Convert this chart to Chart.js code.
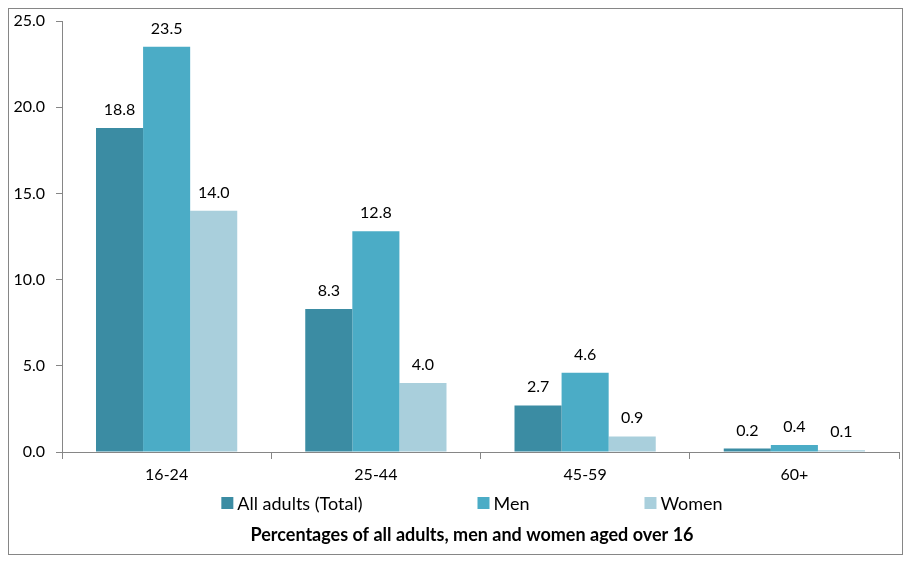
<!DOCTYPE html>
<html><head><meta charset="utf-8">
<script src="https://cdn.jsdelivr.net/npm/chart.js@4"></script>
<style>html,body{margin:0;padding:0;background:#fff}#wrap{width:914px;height:566px}</style>
</head><body><div id="wrap"><canvas id="c"></canvas></div>
<script>
const categories = ["16-24", "25-44", "45-59", "60+"];
const allAdults = [18.8, 8.3, 2.7, 0.2];
const men = [23.5, 12.8, 4.6, 0.4];
const women = [14.0, 4.0, 0.9, 0.1];
const seriesNames = ["All adults (Total)", "Men", "Women"];
const seriesColors = ["#3B8CA3", "#4BACC6", "#A9CFDC"];
const yTicks = [0, 5, 10, 15, 20, 25];
const titleText = "Percentages of all adults, men and women aged over 16";

const FONT = "Lato, 'Open Sans', sans-serif";
Chart.defaults.font.family = FONT;
Chart.defaults.color = "#000";

const frame = {
  id: 'frame',
  beforeDraw(chart) {
    const ctx = chart.ctx;
    ctx.save();
    ctx.fillStyle = '#fff';
    ctx.fillRect(0, 0, chart.width, chart.height);
    ctx.strokeStyle = '#868686';
    ctx.lineWidth = 1;
    ctx.strokeRect(8.5, 8.5, 894, 546);
    ctx.restore();
  }
};
const labels = {
  id: 'valueLabels',
  afterDatasetsDraw(chart) {
    const ctx = chart.ctx;
    ctx.save();
    ctx.font = "16px " + FONT;
    ctx.fillStyle = '#000';
    ctx.textAlign = 'center';
    ctx.textBaseline = 'alphabetic';
    chart.data.datasets.forEach((ds, i) => {
      chart.getDatasetMeta(i).data.forEach((bar, j) => {
        ctx.fillText(ds.data[j].toFixed(1), bar.x, bar.y - 13);
      });
    });
    ctx.restore();
  }
};
const legendAndTitle = {
  id: 'legendAndTitle',
  afterDraw(chart) {
    const ctx = chart.ctx;
    ctx.save();
    ctx.font = "18px " + FONT;
    ctx.textBaseline = 'middle';
    ctx.textAlign = 'left';
    const box = 12, gap = 4, spacing = 115;
    const widths = seriesNames.map(n => box + gap + ctx.measureText(n).width);
    const total = widths.reduce((a, b) => a + b, 0) + spacing * (seriesNames.length - 1);
    const cx = 472;
    let x = cx - total / 2;
    const y = 503;
    seriesNames.forEach((n, i) => {
      ctx.fillStyle = seriesColors[i];
      ctx.fillRect(x, y - box / 2, box, box);
      ctx.fillStyle = '#000';
      ctx.fillText(n, x + box + gap, y + 1);
      x += widths[i] + spacing;
    });
    ctx.font = "bold 18px " + FONT;
    ctx.textAlign = 'center';
    ctx.fillText(titleText, cx, 535);
    ctx.restore();
  }
};

new Chart(document.getElementById('c'), {
  type: 'bar',
  data: {
    labels: categories,
    datasets: seriesNames.map((n, i) => ({
      label: n,
      data: [allAdults, men, women][i],
      backgroundColor: seriesColors[i]
    }))
  },
  options: {
    responsive: true,
    maintainAspectRatio: false,
    animation: false,
    layout: { padding: { left: 10, right: 15, top: 21, bottom: 83 } },
    datasets: { bar: { categoryPercentage: 0.675, barPercentage: 1.0 } },
    scales: {
      x: {
        afterFit(s) { s.height = 31; },
        grid: { drawOnChartArea: false, drawTicks: true, tickLength: 7, color: '#868686', offset: true },
        border: { color: '#868686' },
        ticks: { font: { size: 16 }, color: '#000', padding: 6 }
      },
      y: {
        min: 0, max: 25,
        afterFit(s) { s.width = 52; },
        afterBuildTicks(s) { s.ticks = yTicks.map(v => ({ value: v })); },
        grid: { drawOnChartArea: false, drawTicks: true, tickLength: 6, color: '#868686' },
        border: { color: '#868686' },
        ticks: { font: { size: 16 }, color: '#000', padding: 11, callback: v => Number(v).toFixed(1) }
      }
    },
    plugins: {
      legend: { display: false },
      title: { display: false },
      tooltip: { enabled: false }
    }
  },
  plugins: [frame, labels, legendAndTitle]
});
</script></body></html>
